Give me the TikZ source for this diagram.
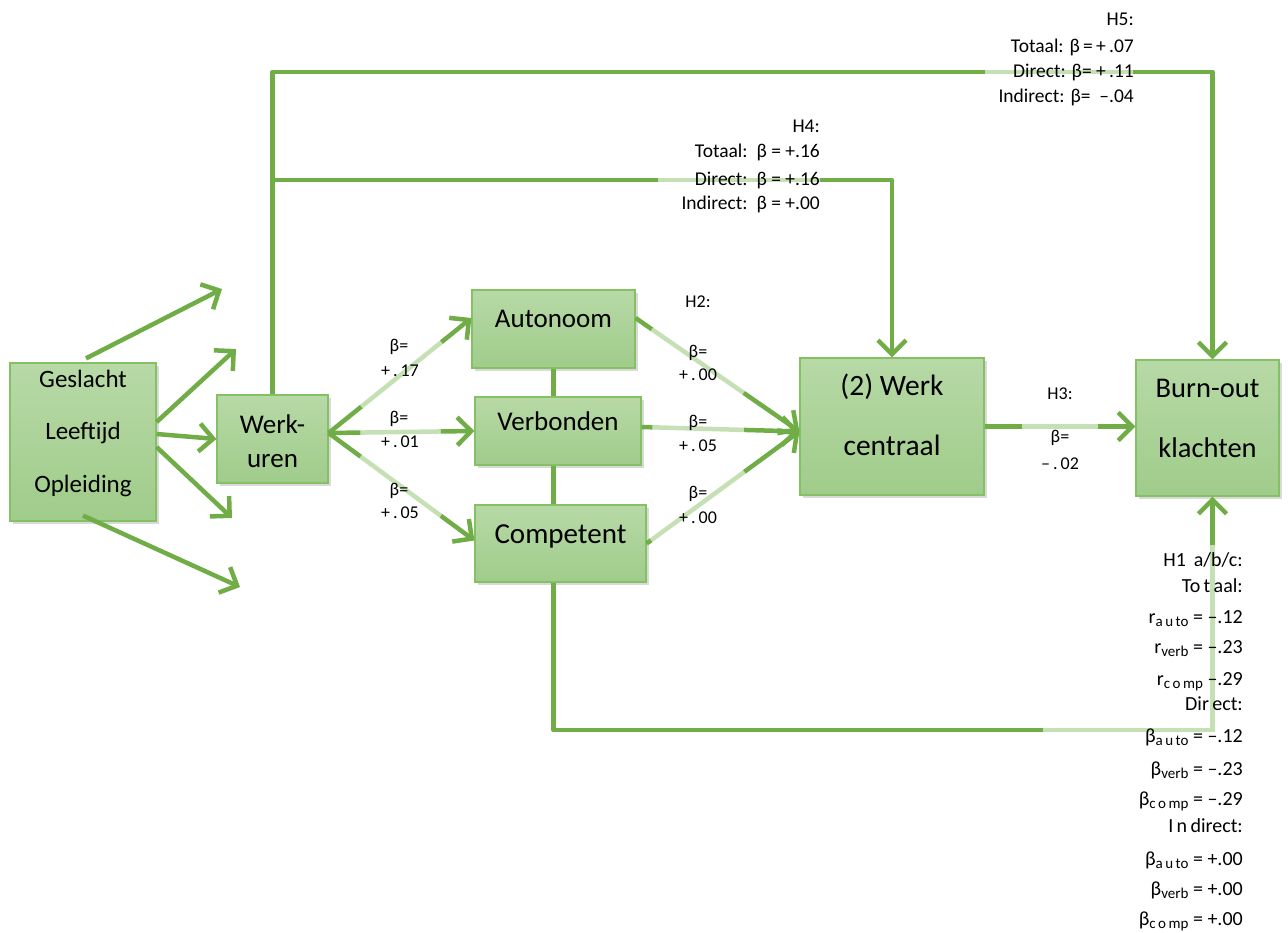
\documentclass[tikz,border=0pt]{standalone}
\usepackage{fontspec}
\setmainfont{Carlito}
\usetikzlibrary{arrows.meta,shadows,calc}
\definecolor{cdark}{RGB}{112,173,71}
\definecolor{clight}{RGB}{197,224,180}
\definecolor{boxtop}{RGB}{183,217,166}
\definecolor{boxbot}{RGB}{160,204,139}
\definecolor{boxline}{RGB}{132,192,100}
\newcommand\bxf{\fontsize{27}{32}\selectfont}
\newcommand\lbf{\fontsize{19.5}{24}\selectfont}
\newcommand\hbf{\fontsize{20}{24}\selectfont}
\newcommand\smf{\fontsize{18}{22}\selectfont}
\newcommand\sbs[1]{\raisebox{-0.35ex}{\fontsize{15}{15}\selectfont #1}}
\newcommand\segline[4]{%
  \draw[dkline] (#1) -- ($(#1)!#3!(#2)$);
  \draw[ltline] ($(#1)!#3!(#2)$) -- ($(#1)!#4!(#2)$);
  \draw[dkline,arr] ($(#1)!#4!(#2)$) -- (#2);}
\begin{document}
\begin{tikzpicture}[x=1pt,y=-1pt,
  box/.style={draw=boxline, line width=1.2pt, top color=boxtop, bottom color=boxbot,
    drop shadow={shadow xshift=3pt,shadow yshift=-3pt,opacity=0.3}, inner sep=0pt},
  txt/.style={font=\bxf, inner sep=0pt, anchor=base},
  lab/.style={font=\lbf, inner sep=0pt, anchor=base east},
  hlab/.style={font=\hbf, inner sep=0pt, anchor=base east},
  blab/.style={font=\smf, inner sep=0pt, anchor=base},
  dkline/.style={draw=cdark, line width=4.5pt, line join=round},
  ltline/.style={draw=clight, line width=4.5pt},
  arr/.style={-{Straight Barb[length=14pt,width=28pt]}}]
\useasboundingbox (0,0) rectangle (1288,933);
% boxes
\node[box, minimum width=146pt, minimum height=158pt] (g) at (83,442) {};
\node[box, minimum width=111pt, minimum height=88pt] (wu) at (272.5,439) {};
\node[box, minimum width=163pt, minimum height=78pt] (au) at (553.5,329) {};
\node[box, minimum width=166pt, minimum height=68pt] (vb) at (558,431) {};
\node[box, minimum width=171pt, minimum height=77pt] (cp) at (560.5,543.5) {};
\node[box, minimum width=184pt, minimum height=137pt] (wc) at (892,426.5) {};
\node[box, minimum width=143pt, minimum height=136pt] (bo) at (1207.5,428) {};
% box texts
\node[txt, font=\fontsize{25}{30}\selectfont] (g1) at (83,387) {Geslacht};
\node[txt, font=\fontsize{25}{30}\selectfont] (g2) at (83,439) {Leeftijd};
\node[txt, font=\fontsize{25}{30}\selectfont] (g3) at (83,492) {Opleiding};
\node[txt] (wu1) at (272.5,433) {Werk-};
\node[txt] (wu2) at (272.5,467) {uren};
\node[txt] (aut) at (553.5,328) {Autonoom};
\node[txt] (vbt) at (558,430) {Verbonden};
\node[txt, font=\fontsize{29}{34}\selectfont] (cpt) at (560.5,543) {Competent};
\node[txt, font=\fontsize{29.5}{34}\selectfont] (wc1) at (892,395) {(2) Werk};
\node[txt, font=\fontsize{29.5}{34}\selectfont] (wc2) at (892,455) {centraal};
\node[txt, font=\fontsize{28.5}{34}\selectfont] (bo1) at (1207.5,397) {Burn-out};
\node[txt, font=\fontsize{28.5}{34}\selectfont] (bo2) at (1207.5,457) {klachten};
% free ends of the Geslacht arrows
\coordinate (e1) at (222,289);
\coordinate (e2) at (236,349);
\coordinate (e4) at (232,518);
\coordinate (e5) at (240,587);
\draw[dkline,arr] ([xshift=3pt,yshift=4pt]g.north) -- (e1);
\draw[dkline,arr] ([yshift=20pt]g.east) -- (e2);
\draw[dkline,arr] ([yshift=8pt]g.east) -- (wu.west);
\draw[dkline,arr] ([yshift=-5pt]g.east) -- (e4);
\draw[dkline,arr] ([yshift=6pt]g.south) -- (e5);
% Werk-uren to the three needs
\coordinate (wuo) at ([yshift=6pt]wu.east);
\coordinate (auin) at ([yshift=11pt]au.west);
\coordinate (cpin) at ([yshift=3pt]cp.west);
\segline{wuo}{auin}{0.23}{0.79}
\segline{wuo}{vb.west}{0.22}{0.77}
\segline{wuo}{cpin}{0.22}{0.77}
% needs to Werk centraal
\coordinate (auo) at ([yshift=11pt]au.east);
\coordinate (vbo) at ([yshift=4pt]vb.east);
\coordinate (wcin) at ([yshift=-5pt]wc.west);
\segline{auo}{wcin}{0.1}{0.66}
\segline{vbo}{wcin}{0.07}{0.65}
\segline{cp.east}{wcin}{0.03}{0.64}
% Werk centraal to Burn-out
\coordinate (boin) at (wc.east -| bo.west);
\segline{wc.east}{boin}{0.25}{0.75}
% links between the needs
\draw[dkline] (au.south) -- (au.south |- vb.north);
\draw[dkline] (au.south |- vb.south) -- (au.south |- cp.north);
% top routes
\coordinate (ytop) at (0,72);
\coordinate (yh4) at (0,180);
\coordinate (bon) at ([xshift=5pt]bo.north);
\coordinate (bos) at ([xshift=5pt]bo.south);
\coordinate (l5a) at (985,72);
\coordinate (l5b) at (1133,72);
\coordinate (l4a) at (658,180);
\coordinate (l4b) at (820,180);
\draw[dkline] (wu.north) -- (wu.north |- ytop) -- (l5a);
\draw[ltline] (l5a) -- (l5b);
\draw[dkline,arr] (l5b) -| (bon);
\draw[dkline] (wu.north |- yh4) -- (l4a);
\draw[ltline] (l4a) -- (l4b);
\draw[dkline,arr] (l4b) -| (wc.north);
% bottom route
\coordinate (b1) at (1043,730);
\coordinate (b2) at (bos |- 0,545);
\draw[dkline] (au.south |- cp.south) |- (b1);
\draw[ltline] (b1) -| (b2);
\draw[dkline,arr] (b2) -- (bos);
% H5 labels
\node[lab] (h5a) at (1134,26) {H5:};
\node[lab] (h5b) at (1134,53) {Totaal: β\,=\,+\,.07};
\node[lab] (h5c) at (1134,78) {Direct: β=\ +\,.11};
\node[lab] (h5d) at (1134,103) {Indirect: β=\ \ –.04};
% H4 labels
\node[lab] (h4a) at (820,133) {H4:};
\node[lab] (h4b) at (820,158) {Totaal:\ \ β = +.16};
\node[lab] (h4c) at (820,186) {Direct:\ \ β = +.16};
\node[lab] (h4d) at (820,210) {Indirect:\ \ β = +.00};
% beta labels left
\node[blab] (b1a) at (399,352) {β=};
\node[blab] (b1b) at (400,377) {+\,.\,17};
\node[blab] (b2a) at (399,423) {β=};
\node[blab] (b2b) at (400,447) {+\,.\,01};
\node[blab] (b3a) at (399,495) {β=};
\node[blab] (b3b) at (400,518) {+\,.\,05};
% H2 labels
\node[blab] (h2) at (698,308) {H2:};
\node[blab] (c1a) at (698,357) {β=};
\node[blab] (c1b) at (698,380) {+\,.\,00};
\node[blab] (c2a) at (698,427) {β=};
\node[blab] (c2b) at (698,451) {+\,.\,05};
\node[blab] (c3a) at (698,498) {β=};
\node[blab] (c3b) at (698,523) {+\,.\,00};
% H3 labels
\node[blab] (h3) at (1060,399) {H3:};
\node[blab] (h3a) at (1060,442) {β=};
\node[blab] (h3b) at (1060,469) {–\,.\,02};
% H1 labels
\node[hlab] (k1) at (1243,566) {H1\, a/b/c:};
\node[hlab] (k2) at (1243,592) {To\,t\,aal:};
\node[hlab] (k3) at (1243,623) {r\sbs{a\,u\,to} = –.12};
\node[hlab] (k4) at (1243,653) {r\sbs{verb} = –.23};
\node[hlab] (k5) at (1243,685) {r\sbs{c\,o\,mp} –.29};
\node[hlab] (k6) at (1243,710) {Dir\,ect:};
\node[hlab] (k7) at (1243,742) {β\sbs{a\,u\,to} = –.12};
\node[hlab] (k8) at (1243,775) {β\sbs{verb} = –.23};
\node[hlab] (k9) at (1243,805) {β\sbs{c\,o\,mp} = –.29};
\node[hlab] (k10) at (1243,832) {I\,n\,direct:};
\node[hlab] (k11) at (1243,865) {β\sbs{a\,u\,to} = +.00};
\node[hlab] (k12) at (1243,895) {β\sbs{verb} = +.00};
\node[hlab] (k13) at (1243,925) {β\sbs{c\,o\,mp} = +.00};
\end{tikzpicture}
\end{document}
